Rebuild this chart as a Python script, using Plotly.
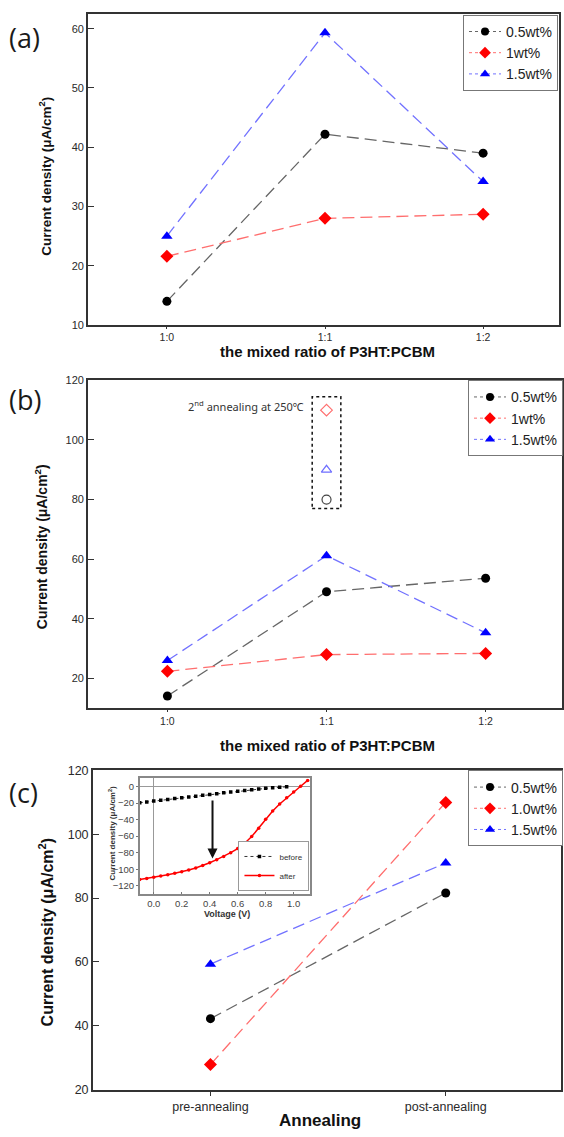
import plotly.graph_objects as go

# ---------------- data ----------------
ratios = ["1:0", "1:1", "1:2"]
a_05 = [14.0, 42.2, 39.0]
a_10 = [21.6, 28.0, 28.7]
a_15 = [25.0, 59.3, 34.2]

b_05 = [14.1, 49.1, 53.6]
b_10 = [22.4, 28.0, 28.4]
b_15 = [26.0, 61.2, 35.3]
b_second_x = ["1:1"]
b_second_05 = [80.0]
b_second_10 = [110.0]
b_second_15 = [90.0]

annealing = ["pre-annealing", "post-annealing"]
c_05 = [42.2, 81.6]
c_10 = [27.8, 110.0]
c_15 = [59.3, 91.0]

v_before = [-0.1, -0.05, 0.0, 0.05, 0.1, 0.15, 0.2, 0.25, 0.3, 0.35, 0.4, 0.45,
            0.5, 0.55, 0.6, 0.65, 0.7, 0.75, 0.8, 0.85, 0.9, 0.95]
j_before = [-19.5, -18.5, -17.5, -16.5, -15.5, -14.5, -13.5, -12.5, -11.5, -10.5, -9.5, -8.5,
            -7.5, -6.5, -5.5, -4.6, -3.7, -2.9, -2.1, -1.4, -0.8, -0.2]
v_after = [-0.1, -0.05, 0.0, 0.05, 0.1, 0.15, 0.2, 0.25, 0.3, 0.35, 0.4, 0.45,
           0.5, 0.55, 0.6, 0.65, 0.7, 0.75, 0.8, 0.85, 0.9, 0.95, 1.0, 1.05, 1.1]
j_after = [-112.5, -111.2, -109.8, -108.3, -106.7, -105.0, -103.2, -101.0, -98.5, -95.5, -92.2, -88.5,
           -84.5, -80.0, -75.0, -68.5, -60.5, -50.5, -39.5, -29.5, -21.0, -13.5, -6.5, 0.5, 7.5]

labels_ab = ["0.5wt%", "1wt%", "1.5wt%"]
labels_c = ["0.5wt%", "1.0wt%", "1.5wt%"]

# ---------------- styles ----------------
FONT = "Liberation Sans, Arial, sans-serif"
W, H = 564, 1137
series_style = [
    dict(line="#666666", marker="#000000", symbol="circle", size=9),
    dict(line="#ff6e6e", marker="#ff0000", symbol="diamond", size=10),
    dict(line="#7272ff", marker="#0000ff", symbol="triangle-up", size=10),
]

def px_x(p):
    return p / W

def px_y(p):
    return 1 - p / H

fig = go.Figure()

def add_panel(xs, ys_list, labels, xa, ya, legend):
    for ys, lab, st in zip(ys_list, labels, series_style):
        fig.add_trace(go.Scatter(
            x=xs, y=ys, mode="lines+markers", showlegend=False,
            line=dict(color=st["line"], width=1.3, dash="12px,6px"),
            marker=dict(color=st["marker"], symbol=st["symbol"], size=st["size"]),
            xaxis=xa, yaxis=ya, hoverinfo="skip"))
        # legend key (dotted line + marker)
        fig.add_trace(go.Scatter(
            x=[None], y=[None], mode="lines+markers", name=lab, legend=legend,
            line=dict(color=st["line"], width=1, dash="dot"),
            marker=dict(color=st["marker"], symbol=st["symbol"], size=st["size"] - 1),
            xaxis=xa, yaxis=ya))

add_panel(ratios, [a_05, a_10, a_15], labels_ab, "x", "y", "legend")
add_panel(ratios, [b_05, b_10, b_15], labels_ab, "x2", "y2", "legend2")
add_panel(annealing, [c_05, c_10, c_15], labels_c, "x3", "y3", "legend3")

# 2nd annealing open markers in (b)
for ys, col, sym in [(b_second_10, "#ff6e6e", "diamond-open"),
                     (b_second_15, "#6e6eff", "triangle-up-open"),
                     (b_second_05, "#444444", "circle-open")]:
    fig.add_trace(go.Scatter(x=b_second_x, y=ys, mode="markers", showlegend=False,
                             marker=dict(color=col, symbol=sym, size=9, line=dict(width=1.2)),
                             xaxis="x2", yaxis="y2"))

# inset
fig.add_trace(go.Scatter(x=v_before, y=j_before, mode="lines+markers", name="before",
                         legend="legend4",
                         line=dict(color="#000000", width=0.8, dash="dot"),
                         marker=dict(color="#000000", symbol="square", size=3.5),
                         xaxis="x4", yaxis="y4"))
fig.add_trace(go.Scatter(x=v_after, y=j_after, mode="lines+markers", name="after",
                         legend="legend4",
                         line=dict(color="#ff0000", width=1.5),
                         marker=dict(color="#ff0000", symbol="circle", size=3.5),
                         xaxis="x4", yaxis="y4"))

tickfont = dict(family=FONT, size=11, color="#2a2a2a")
common = dict(showgrid=False, zeroline=False, showline=True, linecolor="#333333",
              linewidth=1.5, mirror=True, tickfont=tickfont, fixedrange=True)
xtickfont = dict(family=FONT, size=10.5, color="#2a2a2a")

layout = dict(
    width=W, height=H, margin=dict(l=0, r=0, t=0, b=0), autosize=False,
    paper_bgcolor="white", plot_bgcolor="white",
    xaxis=dict(domain=[px_x(88), px_x(560)], range=[-0.5, 2.48], type="category",
               anchor="y", ticks="outside", ticklen=2, tickcolor="#333333",
               **{**common, "tickfont": xtickfont}),
    yaxis=dict(domain=[px_y(322), px_y(7)], range=[10, 62.5], anchor="x",
               tickvals=[10, 20, 30, 40, 50, 60], ticks="inside", ticklen=6,
               tickcolor="#333333", **common),
    xaxis2=dict(domain=[px_x(88), px_x(563)], range=[-0.5, 2.48], type="category",
                anchor="y2", ticks="outside", ticklen=2, tickcolor="#333333",
                **{**common, "tickfont": xtickfont}),
    yaxis2=dict(domain=[px_y(710), px_y(378)], range=[10, 120], anchor="x2",
                tickvals=[20, 40, 60, 80, 100, 120], ticks="inside", ticklen=6,
                tickcolor="#333333", **common),
    xaxis3=dict(domain=[px_x(93), px_x(562)], range=[-0.5, 1.49], type="category",
                anchor="y3", ticks="outside", ticklen=5, tickcolor="#333333",
                **{**common, "tickfont": dict(family=FONT, size=12.5, color="#2a2a2a")}),
    yaxis3=dict(domain=[px_y(1096), px_y(773)], range=[20, 120], anchor="x3",
                tickvals=[20, 40, 60, 80, 100, 120], ticks="inside", ticklen=6,
                tickcolor="#333333",
                **{**common, "tickfont": dict(family=FONT, size=12.5, color="#2a2a2a")}),
    xaxis4=dict(domain=[px_x(140), px_x(311)], range=[-0.1, 1.12], anchor="y4",
                tickvals=[0, 0.2, 0.4, 0.6, 0.8, 1.0], tickformat=".1f",
                ticks="inside", ticklen=2, tickcolor="#777777",
                showgrid=False, zeroline=True, zerolinecolor="#999999", zerolinewidth=1,
                showline=True, linecolor="#888888", linewidth=1.5, mirror=True,
                tickfont=dict(family=FONT, size=9.5, color="#444444"), fixedrange=True),
    yaxis4=dict(domain=[px_y(898), px_y(781)], range=[-130, 10], anchor="x4",
                tickvals=[-120, -100, -80, -60, -40, -20, 0],
                ticks="outside", ticklen=2, tickcolor="#777777",
                showgrid=False, zeroline=True, zerolinecolor="#999999", zerolinewidth=1,
                showline=True, linecolor="#888888", linewidth=1.5, mirror=True,
                tickfont=dict(family=FONT, size=9.5, color="#444444"), fixedrange=True),
)

leg_common = dict(bgcolor="white", bordercolor="#777777", borderwidth=1,
                  font=dict(family=FONT, size=14, color="#222222"),
                  xanchor="right", yanchor="top", tracegroupgap=0, itemwidth=32)
layout["legend"] = dict(x=px_x(559), y=px_y(8), **leg_common)
layout["legend2"] = dict(x=1.0, y=px_y(378), **leg_common)
layout["legend3"] = dict(x=1.0, y=px_y(773), **leg_common)
layout["legend4"] = dict(x=px_x(310), y=px_y(895), xanchor="right", yanchor="bottom",
                         bgcolor="white", bordercolor="#999999", borderwidth=1,
                         itemwidth=30, tracegroupgap=0,
                         font=dict(family=FONT, size=8, color="#333333"))

fig.update_layout(**layout)

ann = []
# panel labels
for txt, yy in [("(a)", 31), ("(b)", 397), ("(c)", 795)]:
    ann.append(dict(text=txt, x=px_x(7), y=px_y(yy), xref="paper", yref="paper",
                    xanchor="left", yanchor="middle", showarrow=False,
                    font=dict(family="Open Sans, Noto Sans, sans-serif", size=27, color="#1a1a1a")))
ytitle = "Current density (μA/cm<sup>2</sup>)"
for xx, yy, fs in [(45, 171, 13.5), (41, 546, 14), (47, 936, 16)]:
    ann.append(dict(text=ytitle, x=px_x(xx), y=px_y(yy), xref="paper", yref="paper",
                    textangle=-90, showarrow=False, xanchor="center", yanchor="middle",
                    font=dict(family=FONT, size=fs, color="#111111", weight="bold")))
for yy in [349, 748]:
    ann.append(dict(text="the mixed ratio of P3HT:PCBM", x=px_x(328), y=px_y(yy),
                    xref="paper", yref="paper", showarrow=False,
                    xanchor="center", yanchor="middle",
                    font=dict(family=FONT, size=15, color="#111111", weight="bold")))
ann.append(dict(text="Annealing", x=px_x(321), y=px_y(1127), xref="paper", yref="paper",
                showarrow=False, xanchor="center", yanchor="middle",
                font=dict(family=FONT, size=17, color="#111111", weight="bold")))
ann.append(dict(text="2<sup>nd</sup> annealing at 250℃", x=px_x(307), y=px_y(404),
                xref="paper", yref="paper", showarrow=False,
                xanchor="right", yanchor="middle",
                font=dict(family="Noto Sans, sans-serif", size=11, color="#333333")))
# inset titles
ann.append(dict(text="Voltage (V)", x=px_x(227), y=px_y(918), xref="paper", yref="paper",
                showarrow=False, xanchor="center", yanchor="middle",
                font=dict(family=FONT, size=9, color="#333333", weight="bold")))
ann.append(dict(text=ytitle, x=px_x(112), y=px_y(836), xref="paper", yref="paper",
                textangle=-90, showarrow=False, xanchor="center", yanchor="middle",
                font=dict(family=FONT, size=8, color="#333333", weight="bold")))
# inset arrow
ann.append(dict(text="", x=0.42, y=-87, ax=0.42, ay=-15, xref="x4", yref="y4",
                axref="x4", ayref="y4", showarrow=True, arrowhead=2, arrowsize=1,
                arrowwidth=2, arrowcolor="#111111"))
fig.update_layout(annotations=ann)

# dotted box around 2nd annealing markers
fig.add_shape(type="rect", xref="x2", yref="y2", x0=0.91, x1=1.09, y0=77.0, y1=114.5,
              line=dict(color="#111111", width=1.5, dash="dot"))

fig.write_html("out.html", config={"displayModeBar": False},
               post_script="document.body.style.margin='0';document.body.style.overflow='hidden';")
